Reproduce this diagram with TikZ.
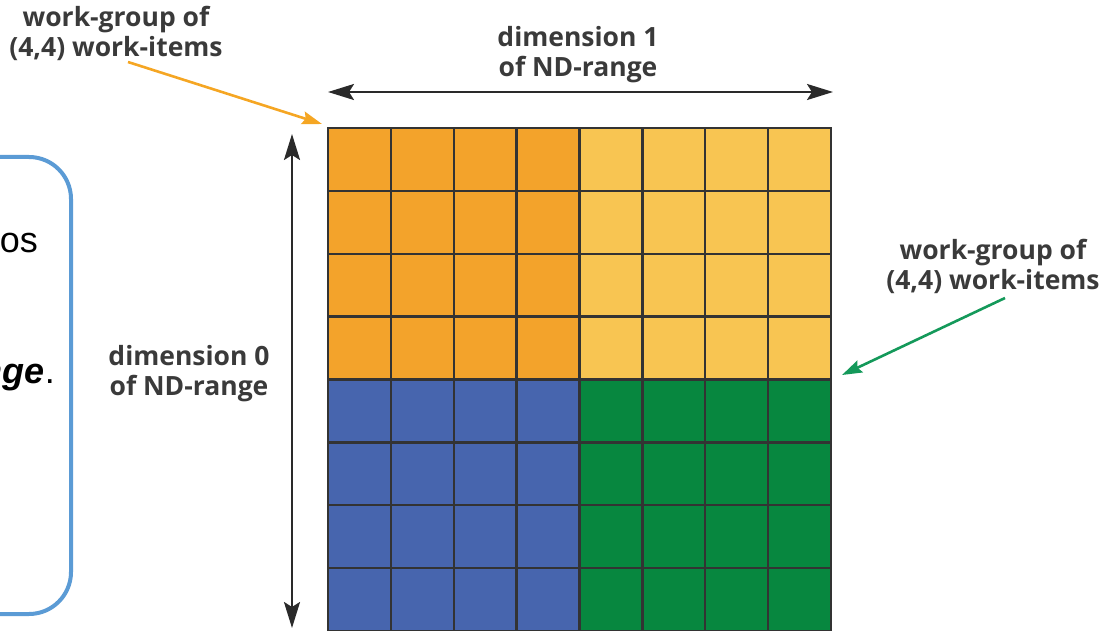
\documentclass[tikz,border=0pt]{standalone}
\usepackage{fontspec}
\setmainfont{Liberation Sans}
\newfontfamily\labelfont{Open Sans}
\usetikzlibrary{arrows.meta}
\definecolor{cOrange}{HTML}{F3A32B}
\definecolor{cYellow}{HTML}{F8C552}
\definecolor{cBlue}{HTML}{4765AE}
\definecolor{cGreen}{HTML}{07873F}
\definecolor{cGreenArrow}{HTML}{14995A}
\definecolor{cOrangeArrow}{HTML}{F5A623}
\definecolor{cGrid}{HTML}{333333}
\definecolor{cLabel}{HTML}{3A3A3A}
\definecolor{cDim}{HTML}{2A2A2A}
\definecolor{cBox}{HTML}{5B9BD5}
\tikzset{
  lbl/.style={font=\labelfont\bfseries\fontsize{26.5}{30}\selectfont, text=cLabel, align=center, inner sep=0pt},
  dimarrow/.style={draw=cDim, line width=2.4pt, {Stealth[length=26pt,width=16pt,inset=5pt]}-{Stealth[length=26pt,width=16pt,inset=5pt]}},
  ptr/.style={line width=2.6pt, -{Stealth[length=20pt,width=13pt,inset=3pt]}},
  gridline/.style={draw=cGrid, line width=2.4pt},
  slidetext/.style={font=\fontsize{36}{42}\selectfont, inner sep=0pt, text=black},
}
\begin{document}
\begin{tikzpicture}[x=1pt,y=-1pt]
\useasboundingbox (0,0) rectangle (1105,631);
\clip (0,0) rectangle (1105,631);
% left rounded box (partly cut off)
\draw[cBox, line width=4pt, rounded corners=42pt] (-60,157) rectangle (71,614);
\node[slidetext, anchor=base east] (t1) at (38,252) {os};
\node[slidetext, anchor=base east] (t2) at (55,383) {\textbf{\textit{nge}}.};
% grid
\def\cs{62.875}
\foreach \i in {0,...,7}{
  \foreach \j in {0,...,7}{
    \pgfmathsetmacro{\xa}{328+\i*\cs}
    \pgfmathsetmacro{\ya}{128+\j*\cs}
    \ifnum\i<4 \ifnum\j<4 \def\cc{cOrange}\else\def\cc{cBlue}\fi
    \else \ifnum\j<4 \def\cc{cYellow}\else\def\cc{cGreen}\fi\fi
    \fill[\cc] (\xa,\ya) rectangle ++(\cs,\cs);
  }
}
\foreach \k in {1,...,7}{
  \pgfmathsetmacro{\pp}{328+\k*\cs}
  \pgfmathsetmacro{\qq}{128+\k*\cs}
  \draw[gridline] (\pp,128) -- (\pp,631);
  \draw[gridline] (328,\qq) -- (831,\qq);
}
\draw[gridline] (328,128) rectangle (831,631);
\coordinate (gTL) at (322,124);
\coordinate (gMR) at (842,375);
% labels
\node[lbl] (wgA) at (116,33) {work-group of\\(4,4) work-items};
\node[lbl] (wgB) at (993,266) {work-group of\\(4,4) work-items};
\node[lbl] (dim1) at (578,55) {dimension 1\\of ND-range};
\node[lbl] (dim0) at (189,374) {dimension 0\\of ND-range};
\coordinate (aS) at (128,62);
\coordinate (bS) at (1005,298);
\draw[ptr, cOrangeArrow] (aS) -- (gTL);
\draw[ptr, cGreenArrow] (bS) -- (gMR);
% dimension arrows
\coordinate (h1) at (328,92);
\coordinate (h2) at (833,92);
\coordinate (v1) at (292,134);
\coordinate (v2) at (292,628);
\draw[dimarrow] (h1) -- (h2);
\draw[dimarrow] (v1) -- (v2);
\end{tikzpicture}
\end{document}
